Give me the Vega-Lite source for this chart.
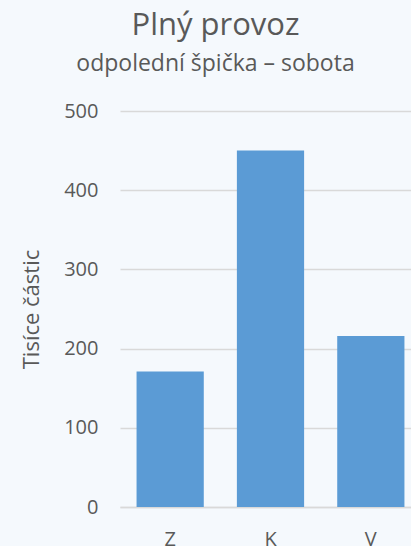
{
  "$schema": "https://vega.github.io/schema/vega-lite/v6.json",
  "autosize": {"type": "none"},
  "width": 291,
  "height": 396,
  "padding": {"left": 120, "top": 111, "right": 0, "bottom": 39},
  "background": "#f5f9fd",
  "config": {
    "font": "Open Sans",
    "view": {"stroke": null}
  },
  "title": {
    "text": "Plný provoz",
    "subtitle": "odpolední špička – sobota",
    "anchor": "middle",
    "frame": "group",
    "dx": -50,
    "offset": 24,
    "font": "Open Sans",
    "fontSize": 31,
    "fontWeight": "normal",
    "color": "#595959",
    "subtitleFont": "Open Sans",
    "subtitleFontSize": 23,
    "subtitleColor": "#595959",
    "subtitlePadding": 11
  },
  "data": {
    "values": [
      {"smer": "Z", "hodnota": 171},
      {"smer": "K", "hodnota": 450},
      {"smer": "V", "hodnota": 216}
    ]
  },
  "mark": {"type": "bar", "color": "#5b9bd5"},
  "encoding": {
    "x": {
      "field": "smer",
      "type": "nominal",
      "sort": null,
      "scale": {"range": [0, 301], "paddingInner": 0.33, "paddingOuter": 0.165},
      "axis": {
        "title": null,
        "labelAngle": 0,
        "labelFontSize": 20,
        "labelColor": "#595959",
        "labelPadding": 22,
        "ticks": false,
        "domainColor": "#d9d9d9",
        "domainWidth": 1.5
      }
    },
    "y": {
      "field": "hodnota",
      "type": "quantitative",
      "scale": {"domain": [0, 500]},
      "axis": {
        "title": "Tisíce částic",
        "titleFontSize": 22,
        "titleFontWeight": "normal",
        "titleColor": "#595959",
        "titleX": -89,
        "titleBaseline": "middle",
        "values": [0, 100, 200, 300, 400, 500],
        "labelFontSize": 20,
        "labelColor": "#595959",
        "labelPadding": 22,
        "ticks": false,
        "domain": false,
        "gridColor": "#d9d9d9",
        "gridWidth": 1.5
      }
    }
  }
}
